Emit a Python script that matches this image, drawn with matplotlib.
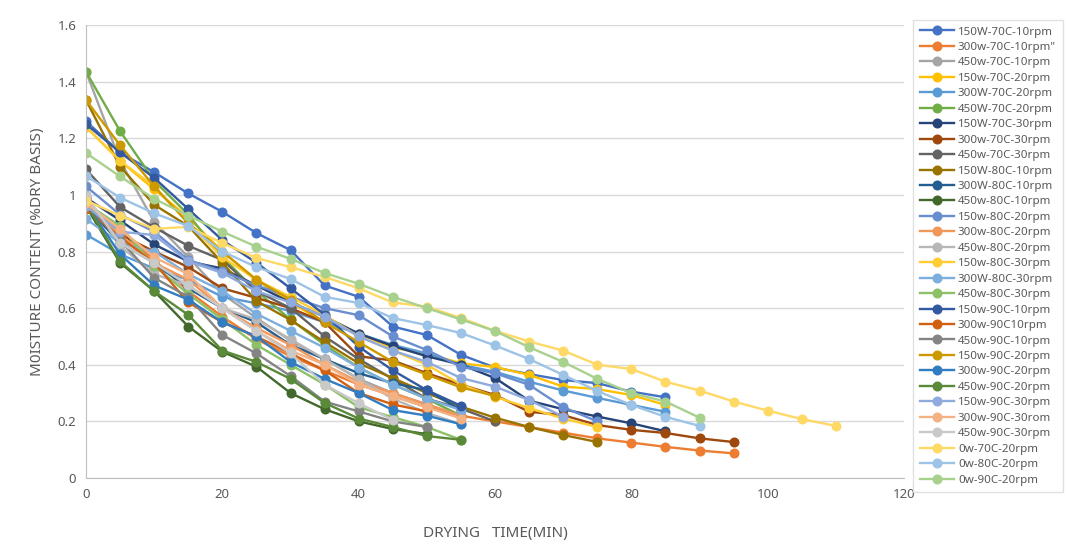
import numpy as np
import matplotlib.pyplot as plt

plt.rcParams['font.family'] = ['Noto Sans', 'DejaVu Sans']

# drying time axis, 5 minute steps
step = 5

labels = ["150W-70C-10rpm", "300w-70C-10rpm\"", "450w-70C-10rpm", "150w-70C-20rpm",
          "300W-70C-20rpm", "450W-70C-20rpm", "150W-70C-30rpm", "300w-70C-30rpm",
          "450w-70C-30rpm", "150W-80C-10rpm", "300W-80C-10rpm", "450w-80C-10rpm",
          "150w-80C-20rpm", "300w-80C-20rpm", "450w-80C-20rpm", "150w-80C-30rpm",
          "300W-80C-30rpm", "450w-80C-30rpm", "150w-90C-10rpm", "300w-90C10rpm",
          "450w-90C-10rpm", "150w-90C-20rpm", "300w-90C-20rpm", "450w-90C-20rpm",
          "150w-90C-30rpm", "300w-90C-30rom", "450w-90C-30rpm", "0w-70C-20rpm",
          "0w-80C-20rpm", "0w-90C-20rpm"]

colors = ["#4472C4", "#ED7D31", "#A5A5A5", "#FFC000", "#5B9BD5", "#70AD47",
          "#264478", "#9E480E", "#636363", "#997300", "#255E91", "#43682B",
          "#698ED0", "#F1975A", "#B7B7B7", "#FFCD33", "#7CAFDD", "#8CC168",
          "#335AA1", "#D26012", "#848484", "#CC9A00", "#327DC2", "#5A8A39",
          "#8FAADC", "#F4B183", "#C9C9C9", "#FFD966", "#9DC3E6", "#A9D18E"]

# moisture content (dry basis) per run, one value every 5 minutes from t=0
w150_70_10 = [1.26, 1.15, 1.08, 1.005, 0.94, 0.865, 0.805, 0.68, 0.64, 0.535, 0.505, 0.435, 0.39, 0.367, 0.346, 0.335, 0.305, 0.285]
w300_70_10 = [0.97, 0.87, 0.77, 0.66, 0.57, 0.49, 0.43, 0.38, 0.33, 0.29, 0.25, 0.22, 0.20, 0.18, 0.16, 0.14, 0.125, 0.11, 0.097, 0.087]
w450_70_10 = [1.435, 1.12, 0.905, 0.78, 0.65, 0.565, 0.485, 0.42, 0.35, 0.30, 0.26, 0.22]
w150_70_20 = [1.24, 1.12, 1.02, 0.92, 0.80, 0.70, 0.62, 0.55, 0.51, 0.46, 0.44, 0.405, 0.392, 0.364, 0.323, 0.314, 0.293, 0.258]
w300_70_20 = [0.86, 0.79, 0.74, 0.70, 0.64, 0.617, 0.59, 0.55, 0.51, 0.47, 0.44, 0.40, 0.375, 0.34, 0.309, 0.283, 0.258, 0.234]
w450_70_20 = [1.435, 1.225, 1.05, 0.93, 0.78, 0.66, 0.56, 0.47, 0.39, 0.33, 0.28, 0.22]
w150_70_30 = [0.99, 0.91, 0.825, 0.765, 0.74, 0.68, 0.62, 0.57, 0.51, 0.466, 0.43, 0.40, 0.353, 0.273, 0.243, 0.217, 0.193, 0.165]
w300_70_30 = [0.96, 0.86, 0.80, 0.745, 0.67, 0.636, 0.60, 0.55, 0.43, 0.415, 0.37, 0.33, 0.293, 0.234, 0.222, 0.187, 0.17, 0.159, 0.14, 0.127]
w450_70_30 = [1.09, 0.957, 0.885, 0.82, 0.77, 0.66, 0.60, 0.50, 0.42, 0.35, 0.28, 0.245, 0.20]
w150_80_10 = [1.335, 1.10, 0.965, 0.89, 0.76, 0.625, 0.558, 0.48, 0.405, 0.353, 0.30, 0.252, 0.213, 0.18, 0.152, 0.127]
w300_80_10 = [0.96, 0.83, 0.76, 0.67, 0.60, 0.55, 0.47, 0.42, 0.37, 0.335, 0.31, 0.24]
w450_80_10 = [0.96, 0.76, 0.66, 0.535, 0.446, 0.393, 0.30, 0.243, 0.20, 0.173, 0.155]
w150_80_20 = [1.03, 0.93, 0.87, 0.77, 0.73, 0.68, 0.64, 0.60, 0.575, 0.50, 0.452, 0.393, 0.37, 0.329, 0.25, 0.20]
w300_80_20 = [0.96, 0.86, 0.76, 0.70, 0.60, 0.53, 0.47, 0.40, 0.34, 0.30, 0.26, 0.22]
w450_80_20 = [1.00, 0.82, 0.72, 0.68, 0.60, 0.56, 0.49, 0.42, 0.35, 0.28, 0.23, 0.19]
w150_80_30 = [1.24, 1.12, 1.03, 0.90, 0.78, 0.70, 0.64, 0.575, 0.50, 0.45, 0.40, 0.33, 0.287, 0.247, 0.21, 0.18]
w300_80_30 = [0.915, 0.83, 0.80, 0.72, 0.66, 0.58, 0.52, 0.46, 0.39, 0.33, 0.28, 0.24]
w450_80_30 = [0.97, 0.89, 0.75, 0.65, 0.56, 0.47, 0.40, 0.33, 0.25, 0.215, 0.18, 0.135]
w150_90_10 = [1.25, 1.15, 1.06, 0.95, 0.84, 0.76, 0.67, 0.577, 0.464, 0.38, 0.31, 0.255]
w300_90_10 = [0.95, 0.85, 0.76, 0.62, 0.55, 0.50, 0.44, 0.38, 0.30, 0.26, 0.235]
w450_90_10 = [0.97, 0.84, 0.707, 0.64, 0.505, 0.44, 0.36, 0.27, 0.235, 0.20, 0.18]
w150_90_20 = [1.335, 1.175, 1.03, 0.90, 0.80, 0.70, 0.63, 0.55, 0.48, 0.41, 0.365, 0.32, 0.29]
w300_90_20 = [0.97, 0.79, 0.68, 0.63, 0.55, 0.50, 0.41, 0.35, 0.30, 0.24, 0.22, 0.19]
w450_90_20 = [0.97, 0.765, 0.66, 0.576, 0.45, 0.41, 0.35, 0.265, 0.21, 0.18, 0.148, 0.135]
w150_90_30 = [0.96, 0.87, 0.858, 0.765, 0.724, 0.66, 0.62, 0.57, 0.50, 0.45, 0.41, 0.353, 0.323, 0.275, 0.217]
w300_90_30 = [0.97, 0.88, 0.78, 0.72, 0.60, 0.52, 0.45, 0.40, 0.33, 0.29, 0.25, 0.21]
w450_90_30 = [0.995, 0.83, 0.76, 0.68, 0.60, 0.52, 0.44, 0.33, 0.264, 0.205]
w0_70_20 = [0.98, 0.927, 0.88, 0.887, 0.83, 0.777, 0.745, 0.71, 0.67, 0.62, 0.605, 0.565, 0.52, 0.482, 0.45, 0.40, 0.385, 0.34, 0.309, 0.27, 0.238, 0.208, 0.184]
w0_80_20 = [1.067, 0.99, 0.935, 0.89, 0.80, 0.745, 0.703, 0.64, 0.618, 0.565, 0.54, 0.512, 0.468, 0.42, 0.364, 0.307, 0.258, 0.216, 0.184]
w0_90_20 = [1.148, 1.065, 0.986, 0.927, 0.87, 0.817, 0.774, 0.724, 0.686, 0.64, 0.60, 0.56, 0.519, 0.462, 0.41, 0.35, 0.30, 0.27, 0.213]

series = [w150_70_10, w300_70_10, w450_70_10, w150_70_20, w300_70_20, w450_70_20,
          w150_70_30, w300_70_30, w450_70_30, w150_80_10, w300_80_10, w450_80_10,
          w150_80_20, w300_80_20, w450_80_20, w150_80_30, w300_80_30, w450_80_30,
          w150_90_10, w300_90_10, w450_90_10, w150_90_20, w300_90_20, w450_90_20,
          w150_90_30, w300_90_30, w450_90_30, w0_70_20, w0_80_20, w0_90_20]

fig = plt.figure(figsize=(10.66, 5.51), dpi=100)
ax = fig.add_axes([0.0807, 0.1325, 0.7674, 0.8221])

for vals, lab, col in zip(series, labels, colors):
    t = np.arange(len(vals)) * step
    ax.plot(t, vals, color=col, lw=1.7, marker='o', ms=6.2, label=lab)

ax.set_xlim(0, 120)
ax.set_ylim(0, 1.6)
ax.set_xticks(np.arange(0, 121, 20))
ax.set_yticks([0, 0.2, 0.4, 0.6, 0.8, 1.0, 1.2, 1.4, 1.6])
ax.set_yticklabels(["0", "0.2", "0.4", "0.6", "0.8", "1", "1.2", "1.4", "1.6"])
ax.grid(axis='y', color='#D9D9D9', lw=1)
ax.set_axisbelow(True)
for s in ['top', 'right']:
    ax.spines[s].set_visible(False)
ax.spines['left'].set_color('#BFBFBF')
ax.spines['bottom'].set_color('#BFBFBF')
ax.tick_params(length=0, colors='#595959', labelsize=9.5, pad=7)

ax.set_xlabel("DRYING   TIME(MIN)", color='#595959', fontsize=11, labelpad=18)
ax.set_ylabel("M0ISTURE CONTENT (%DRY BASIS)", color='#595959', fontsize=11, labelpad=9)

leg = fig.legend(loc='upper left', bbox_to_anchor=(0.851, 0.975), fontsize=8.3,
                 labelspacing=0.38, handlelength=3.0, handletextpad=0.3,
                 frameon=True, fancybox=False, edgecolor='#D9D9D9', borderpad=0.6)
for txt in leg.get_texts():
    txt.set_color('#595959')

plt.savefig("out.png", dpi=100)
